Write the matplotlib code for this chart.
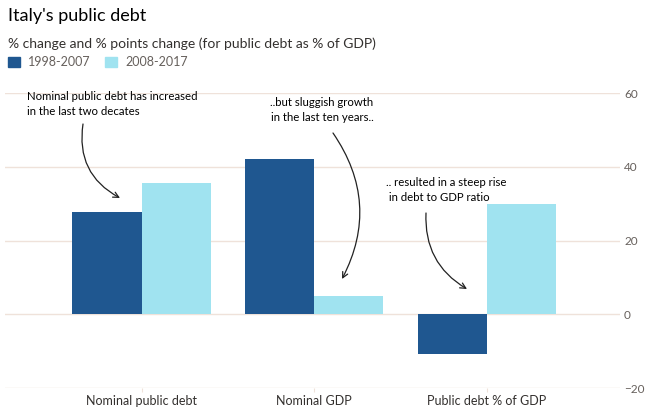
import matplotlib.pyplot as plt
import numpy as np

# 数据：各指标在两个十年的变化（%，或 % 点）
categories = ["Nominal public debt", "Nominal GDP", "Public debt % of GDP"]
period_labels = ["1998-2007", "2008-2017"]
values_1998_2007 = [27.7, 42.1, -10.9]
values_2008_2017 = [35.5, 4.9, 29.9]
y_ticks = [-20, 0, 20, 40, 60]

DARK = "#1f5790"
LIGHT = "#a0e3f0"
GRID = "#efe2da"
TEXT = "#33302e"
TICK_TEXT = "#66605c"

plt.rcParams["font.family"] = ["Lato", "DejaVu Sans"]

fig = plt.figure(figsize=(6.45, 4.08), dpi=100)
fig.patch.set_facecolor("white")
ax = fig.add_axes([0.008, 0.049, 0.953, 0.723])

x = np.arange(len(categories))
width = 0.4
ax.bar(x - width / 2, values_1998_2007, width, color=DARK, zorder=3, label=period_labels[0])
ax.bar(x + width / 2, values_2008_2017, width, color=LIGHT, zorder=3, label=period_labels[1])

ax.set_xlim(-0.79, 2.77)
ax.set_ylim(-20, 60)
ax.set_yticks(y_ticks)
ax.yaxis.tick_right()
ax.tick_params(axis="y", length=0, pad=3, labelsize=8.5, labelcolor=TICK_TEXT)
ax.set_xticks(x)
ax.set_xticklabels(categories)
ax.tick_params(axis="x", length=3, color=GRID, pad=2, labelsize=9, labelcolor=TEXT)
ax.grid(axis="y", color=GRID, linewidth=1, zorder=0)
for side in ["top", "right", "left", "bottom"]:
    ax.spines[side].set_visible(False)

# 标题与副标题
fig.text(0.012, 0.962, "Italy's public debt", fontsize=13, color="#000000", va="center")
fig.text(0.012, 0.893, "% change and % points change (for public debt as % of GDP)",
         fontsize=10, color=TEXT, va="center")

# 图例（手工排布的色块）
legend_y = 0.848
for i, (label, color) in enumerate(zip(period_labels, [DARK, LIGHT])):
    x0 = 0.012 + i * 0.151
    fig.patches.append(plt.Rectangle((x0, legend_y - 0.012), 0.019, 0.024,
                                     transform=fig.transFigure, color=color))
    fig.text(x0 + 0.031, legend_y, label, fontsize=9, color=TICK_TEXT, va="center")

# 注释与弯曲箭头
def px(xp, yp):
    return (xp / 645, 1 - yp / 408)

note_style = dict(fontsize=8.2, color="#000000", linespacing=1.35)
arrow = dict(arrowstyle="->", color="#222222", lw=0.9, shrinkA=0, shrinkB=0)

fig.text(*px(27, 104), "Nominal public debt has increased\nin the last two decates",
         va="center", ha="left", **note_style)
ax.annotate("", xy=px(120, 198), xytext=px(83, 124), xycoords="figure fraction",
            textcoords="figure fraction",
            arrowprops=dict(connectionstyle="arc3,rad=0.35", **arrow))

fig.text(*px(322, 110), "..but sluggish growth\nin the last ten years..",
         va="center", ha="center", **note_style)
ax.annotate("", xy=px(342, 279), xytext=px(333, 133), xycoords="figure fraction",
            textcoords="figure fraction",
            arrowprops=dict(connectionstyle="arc3,rad=-0.3", **arrow))

fig.text(*px(386, 190), ".. resulted in a steep rise\n in debt to GDP ratio",
         va="center", ha="left", **note_style)
ax.annotate("", xy=px(467, 289), xytext=px(426, 213), xycoords="figure fraction",
            textcoords="figure fraction",
            arrowprops=dict(connectionstyle="arc3,rad=0.3", **arrow))

fig.savefig("out.png", dpi=100, facecolor="white")
